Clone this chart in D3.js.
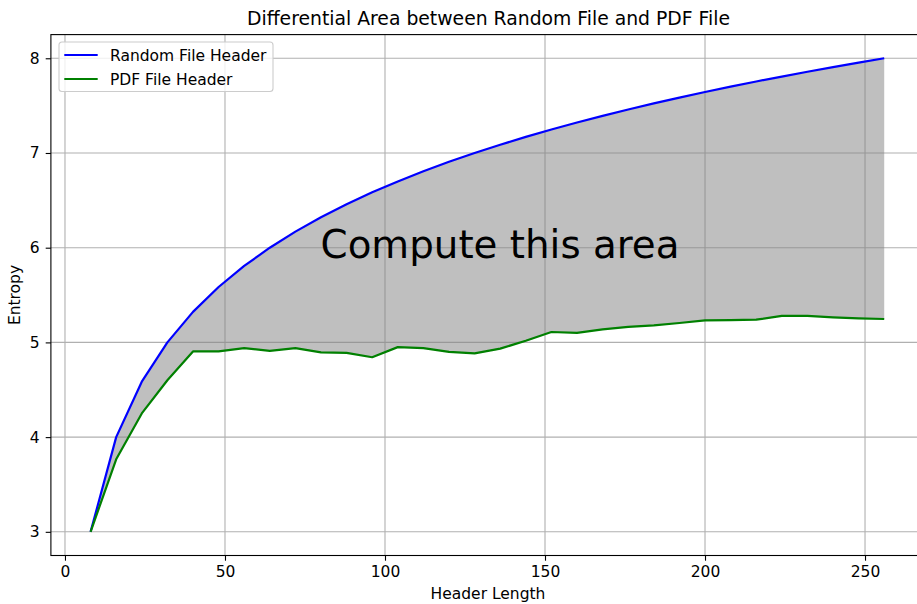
<!DOCTYPE html>
<html>
<head>
<meta charset="utf-8">
<script src="https://cdn.jsdelivr.net/npm/d3@7"></script>
<style>
  html, body { margin: 0; padding: 0; background: #fff; }
  svg { display: block; font-family: "DejaVu Sans", sans-serif; }
</style>
</head>
<body>
<svg id="chart" width="917" height="604"></svg>
<script>
// Header lengths (bytes) and the entropy measured for each header type
const headerLengths = [8, 16, 24, 32, 40, 48, 56, 64, 72, 80, 88, 96, 104, 112, 120, 128,
  136, 144, 152, 160, 168, 176, 184, 192, 200, 208, 216, 224, 232, 240, 248, 256];
const randomEntropy = [3, 4, 4.585, 5, 5.322, 5.585, 5.807, 6, 6.170, 6.322, 6.459, 6.585,
  6.700, 6.807, 6.907, 7, 7.087, 7.170, 7.248, 7.322, 7.392, 7.459, 7.524, 7.585,
  7.644, 7.700, 7.755, 7.807, 7.858, 7.907, 7.954, 8];
const pdfEntropy = [3, 3.766, 4.25, 4.60, 4.905, 4.905, 4.94, 4.91, 4.94, 4.895, 4.889, 4.843,
  4.95, 4.94, 4.90, 4.885, 4.934, 5.018, 5.11, 5.10, 5.138, 5.163, 5.18, 5.205,
  5.233, 5.236, 5.24, 5.28, 5.28, 5.265, 5.254, 5.247];
const xTicks = [0, 50, 100, 150, 200, 250];
const yTicks = [3, 4, 5, 6, 7, 8];
const seriesNames = ["Random File Header", "PDF File Header"];

const rows = headerLengths.map((len, i) => ({ len, rnd: randomEntropy[i], pdf: pdfEntropy[i] }));

const svg = d3.select("#chart");
const x = d3.scaleLinear().domain([-4.4, 268.4]).range([50.9, 923.9]);
const y = d3.scaleLinear().domain([2.75, 8.25]).range([555.5, 34.6]);
const [x0, x1] = x.range();
const [yb, yt] = y.range();

// grid
const grid = svg.append("g").attr("stroke", "#b0b0b0").attr("stroke-width", 1.1);
grid.selectAll(".gx").data(xTicks).join("line")
  .attr("x1", d => x(d)).attr("x2", d => x(d)).attr("y1", yt).attr("y2", yb);
grid.selectAll(".gy").data(yTicks).join("line")
  .attr("x1", x0).attr("x2", x1).attr("y1", d => y(d)).attr("y2", d => y(d));

// shaded difference between the two curves
svg.append("path")
  .datum(rows)
  .attr("fill", "#808080").attr("fill-opacity", 0.5)
  .attr("d", d3.area().x(d => x(d.len)).y0(d => y(d.pdf)).y1(d => y(d.rnd)));

// lines
const line = key => d3.line().x(d => x(d.len)).y(d => y(d[key]));
svg.append("path").datum(rows).attr("fill", "none").attr("stroke", "#0000ff")
  .attr("stroke-width", 2.2).attr("stroke-linejoin", "round").attr("d", line("rnd"));
svg.append("path").datum(rows).attr("fill", "none").attr("stroke", "#008000")
  .attr("stroke-width", 2.2).attr("stroke-linejoin", "round").attr("d", line("pdf"));

// annotation
svg.append("text").attr("x", 500).attr("y", 258).attr("text-anchor", "middle")
  .attr("font-size", 38.8).attr("fill", "#000").text("Compute this area");

// axes
const xAxis = d3.axisBottom(x).tickValues(xTicks).tickFormat(d3.format("d"))
  .tickSize(5.2).tickPadding(5.2).tickSizeOuter(0);
const yAxis = d3.axisLeft(y).tickValues(yTicks).tickFormat(d3.format("d"))
  .tickSize(5.2).tickPadding(6).tickSizeOuter(0);
const gx = svg.append("g").attr("transform", `translate(0,${yb})`).call(xAxis);
const gy = svg.append("g").attr("transform", `translate(${x0},0)`).call(yAxis);
[gx, gy].forEach(g => {
  g.select(".domain").remove();
  g.selectAll(".tick line").attr("stroke", "#000").attr("stroke-width", 1.1);
  g.selectAll(".tick text").attr("font-size", 15.5).attr("fill", "#000")
    .attr("font-family", "DejaVu Sans, sans-serif");
});

// spines
const sp = svg.append("g").attr("stroke", "#000").attr("stroke-width", 1.1).attr("fill", "none");
sp.append("rect").attr("x", x0).attr("y", yt).attr("width", x1 - x0).attr("height", yb - yt);

// labels
svg.append("text").attr("x", 488.5).attr("y", 25).attr("text-anchor", "middle")
  .attr("font-size", 18.8).text("Differential Area between Random File and PDF File");
svg.append("text").attr("x", 488).attr("y", 599).attr("text-anchor", "middle")
  .attr("font-size", 15.5).text("Header Length");
svg.append("text").attr("transform", "translate(20,295) rotate(-90)").attr("text-anchor", "middle")
  .attr("font-size", 15.5).text("Entropy");

// legend
const lg = svg.append("g").attr("transform", "translate(59,42)");
lg.append("rect").attr("width", 214).attr("height", 49.5).attr("rx", 3)
  .attr("fill", "#fff").attr("fill-opacity", 0.8).attr("stroke", "#cccccc").attr("stroke-width", 1.1);
const colors = ["#0000ff", "#008000"];
seriesNames.forEach((name, i) => {
  const cy = 13 + i * 24;
  lg.append("line").attr("x1", 5.3).attr("x2", 38.7).attr("y1", cy).attr("y2", cy)
    .attr("stroke", colors[i]).attr("stroke-width", 2.2);
  lg.append("text").attr("x", 51).attr("y", cy + 5.5).attr("font-size", 15.5).text(name);
});
</script>
</body>
</html>
